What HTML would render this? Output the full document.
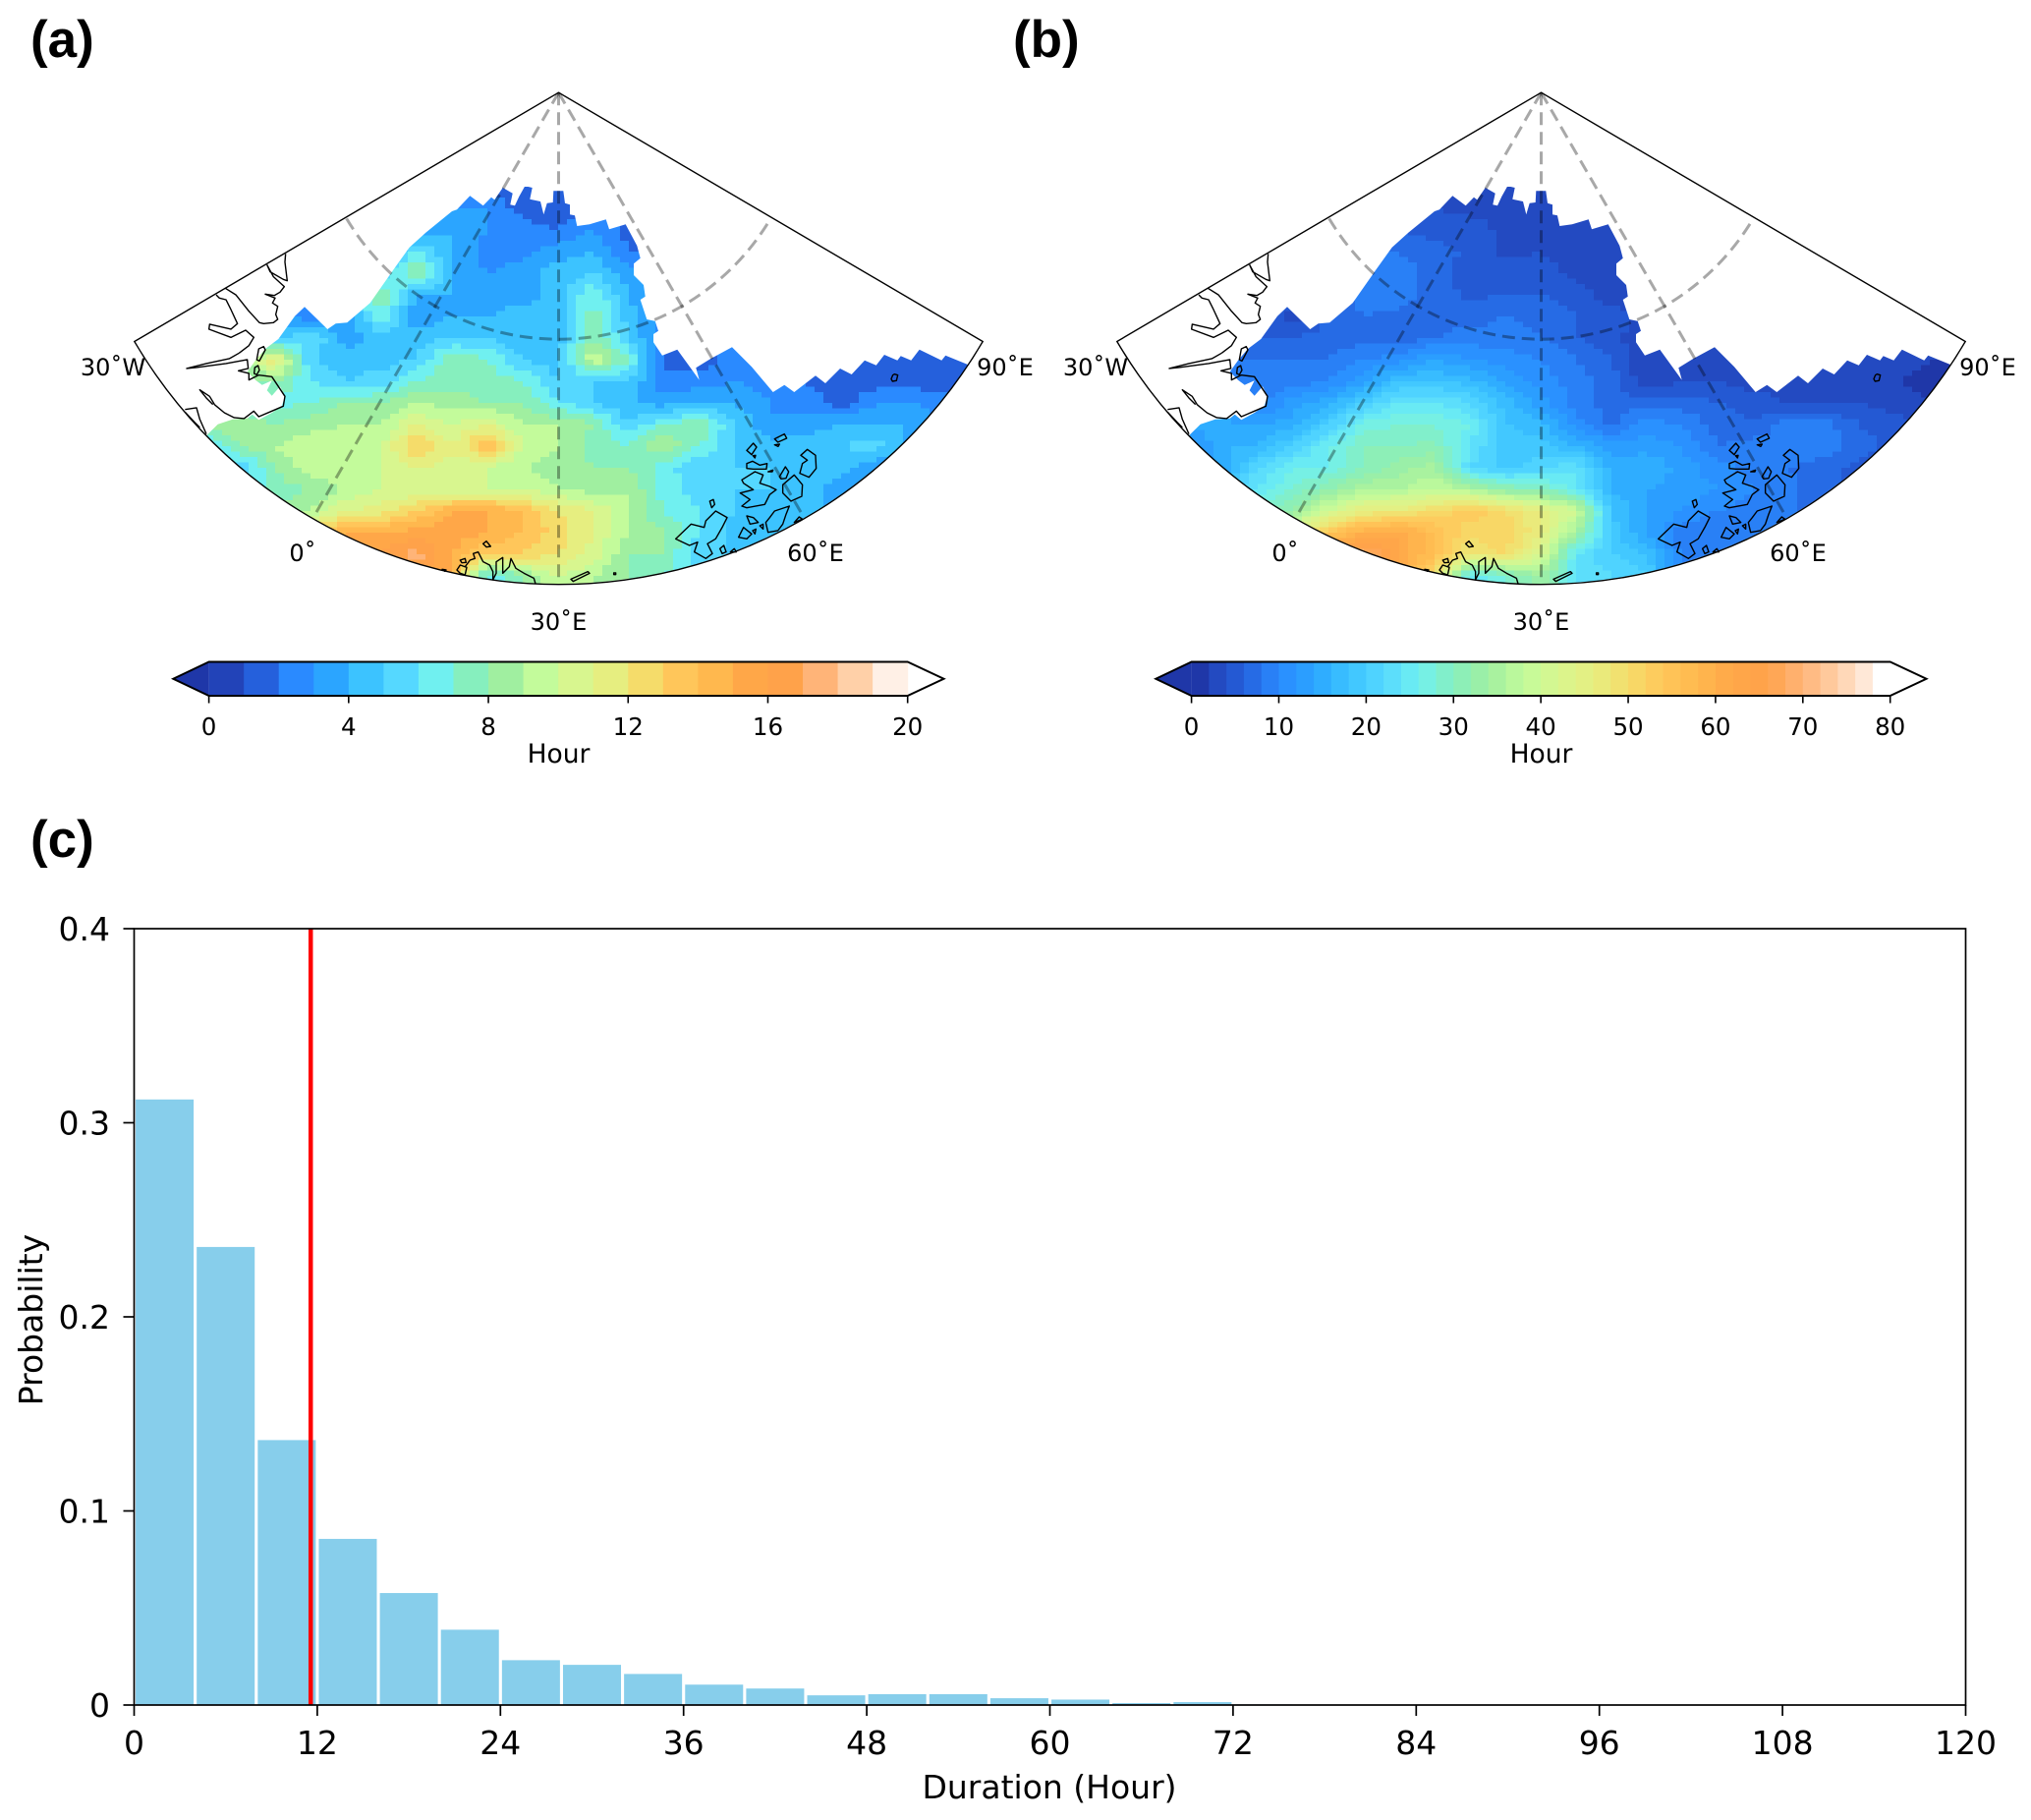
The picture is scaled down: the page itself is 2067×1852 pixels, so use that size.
<!DOCTYPE html>
<html lang="en">
<head>
<meta charset="utf-8">
<title>Duration maps and histogram</title>
<style>
html,body{margin:0;padding:0;background:#fff;}
svg{display:block;}
text{font-family:"DejaVu Sans","Liberation Sans",sans-serif;fill:#000;}
.panel-tag{font-family:"Liberation Sans",sans-serif;font-weight:bold;font-size:53px;}
.map-label{font-size:24px;text-anchor:middle;}
</style>
</head>
<body>
<svg id="fig" xmlns="http://www.w3.org/2000/svg" width="2067" height="1852" viewBox="0 0 2067 1852">
<rect width="2067" height="1852" fill="#fff"/>
<text class="panel-tag" x="31" y="58">(a)</text>
<text class="panel-tag" x="1031" y="58">(b)</text>
<text class="panel-tag" x="31" y="872">(c)</text>

<g id="map-a"></g>
<g id="map-b"></g>

<g>
<text class="map-label" x="115" y="382">30˚W</text>
<text class="map-label" x="308" y="571">0˚</text>
<text class="map-label" x="568.5" y="641">30˚E</text>
<text class="map-label" x="830" y="571">60˚E</text>
<text class="map-label" x="1023" y="382">90˚E</text>
</g>
<g>
<text class="map-label" x="1115" y="382">30˚W</text>
<text class="map-label" x="1308" y="571">0˚</text>
<text class="map-label" x="1568.5" y="641">30˚E</text>
<text class="map-label" x="1830" y="571">60˚E</text>
<text class="map-label" x="2023" y="382">90˚E</text>
</g>

<g id="cbar-a"></g>
<g id="cbar-b"></g>
<text x="568.5" y="776" font-size="26.5" text-anchor="middle">Hour</text>
<text x="1568.5" y="776" font-size="26.5" text-anchor="middle">Hour</text>

<g id="hist"></g>
<text x="1068" y="1830" font-size="33" text-anchor="middle">Duration (Hour)</text>
<text transform="translate(43,1343) rotate(-90)" font-size="33" text-anchor="middle">Probability</text>
</svg>

<script>
// ---------- Histogram data ----------
const binWidthHours = 4;
const barValues = [0.312,0.236,0.1365,0.0856,0.0577,0.0388,0.0231,0.0207,0.016,0.0105,0.0085,0.005,0.0056,0.0056,0.0035,0.0028,0.001,0.0015,0.0003,0.0002,0.0002,0.0001];
const meanDuration = 11.57;
const xTickValues = [0,12,24,36,48,60,72,84,96,108,120];
const yTickValues = [0,0.1,0.2,0.3,0.4];
const yTickLabels = ["0","0.1","0.2","0.3","0.4"];

// ---------- Colour-bar data ----------
const palette = ["#2243b8","#2560dc","#2a8aff","#2ba5ff","#3cc3ff","#55d8ff","#70f0f0","#86efbe","#a0efa0","#c3fb9b","#d8f68f","#e6ee80","#f5dc6a","#ffc65a","#ffb84e","#ffa748","#ffa24a","#ffb478","#ffd0a8","#fff0e6"];
const cbarTicksA = [0,4,8,12,16,20];
const cbarTicksB = [0,10,20,30,40,50,60,70,80];

// ---------- Gridded field, panel (a), hours ----------
const gridA = [
[2,2,2,2,2,2,2,2,2,2,1.5,1.5,1.5,1.5,2,2,2,2,2,2,2,2,2,2,2],
[3,3,3,3,3,3,3,3,3,3,3,1.5,1,2,2,2,2,2,2,2,2,2,2,2,2],
[3,3,3,3,3,3,3,3,3,4,3,2.5,2,3,1.5,2,2,2,2,2,2,2,2,2,2],
[3,3,3,3,3,3,3,4,6,4,2.5,2.5,3.5,4,2,2,2,2,2,2,2,2,2,2,2],
[3,3,3,3,3,3,3,5,8.5,4,3,3.5,4.5,5,3.5,2,2,2,2,2,2,2,2,2,2],
[3,3,3,3,3,3,5,8,4,4,3.5,3.5,4.5,7,4,2,2,2,2,2,2,2,2,2,2],
[3,3,3,3,3,2.5,3,7,3,4,4,4.5,4.5,7.5,4.5,3,2,2,2,2,2,2,2,2,2],
[4,4,4,4,4.5,6,3.5,4.5,4.5,5,5,4,4.5,8,5,2,2,2,2,2,1.5,1.5,1.5,1.5,1.5],
[6,6,6,8,12,5,4.5,4.5,5,8,7,5,4.5,10,7,2,1.5,2.5,2,2,1.5,1.5,1.5,1.5,1.5],
[7,7,7,8,8,6,5,5.5,7,7.5,7.5,7,5,5,5,2,2.5,3,2,2,1.5,1.5,1.5,1,1],
[7,7,7,7,6.5,7,8,8,9,8.5,8,8,6,5,4,3.5,4,4,3,2.5,1.5,3,3,2.5,2],
[7,7,8,9,8,8.5,9,9,11,10,11,9,9,8,5,7,8,5,3,3.5,4,4,4,3,3],
[6,6,6,8,9,10,9.5,10,13.5,11,14,10,9,7.5,7,9,7,5,4.5,4.5,5,5.5,3.5,3,3],
[5,5,5,5,8,9.5,10,10,11,10.5,10,9,8.5,8,8,6.5,5,5,5,4.5,4.5,3,3,3,3],
[5,5,5,5,7.5,8,9,10,10,10,10,10,9,8.5,9,6.5,5.5,5,5,4.5,3.5,3,3,3,3],
[8,8,8,8,8,9,11,11.5,13,15,15,14,12,11,9,7,6,5,4.5,4,4,4,4,4,4],
[12,12,12,12,12,13,15,15,15.5,15.5,15,14,12.5,11,9,8,6,4.5,4.5,4,4,4,4,4,4],
[14,14,14,14,14,15,16,16,17.5,15,13,13,12,10.5,8,8,5,5,5,5,5,5,5,5,5],
[15,15,15,15,15,15,15,16,16,15,6,8,10,9,8,7,6,5,5,5,5,5,5,5,5],
[15,15,15,15,15,15,15,16,16,15,6,8,10,9,8,7,6,5,5,5,5,5,5,5,5]
];

// ---------- Gridded field, panel (b), hours ----------
const gridB = [
[3,3,3,3,3,3,3,3,3,3,3,2,2,2,3,3,3,3,3,3,3,3,3,3,3],
[4,4,4,4,4,4,4,4,4,4,3.5,3,2,2.5,3,3,3,3,3,3,3,3,3,3,3],
[6,6,6,6,6,6,6,6,6,5,5,3.5,3,3,2.5,3,3,3,3,3,3,3,3,3,3],
[8,8,8,8,8,8,8,8,8,7,5.5,3.5,4,3.5,3,3,3,3,3,3,3,3,3,3,3],
[8,8,8,8,8,8,8,8,9,7,5,5,4.5,3.5,3,3,3,3,3,3,3,3,3,3,3],
[7,7,7,7,7,7,7,9,9,7,5.5,6,6,5,3,3,3,3,3,3,3,3,3,3,3],
[5,5,5,5,5,3,6,8,7.5,7,7,8,7,6,5,3,3,3,3,3,3,3,3,3,3],
[6,6,6,6,6,6,7,7,7,8,9,9,8,6,5,2,2,2,2,2,2,2,2,2,2],
[8,8,8,8,8,8,8,10,11,14,12,11,10,8,6,2,2,3,3,3,3,3,3,2,2],
[8,8,8,8,8,9,10,13,18,18,17,13,11,9,7,2.5,4,4,3,3,3,3,2,1,1],
[9,9,9,9,9,13,15,20,24,24,22,17,13,9,7,7,7,6,5,4,4,4,3,2,2],
[15,15,15,15,14,15,20,27,28,28,26,18,17,11,7.5,11,10,7,6,9,9,6,5,4,4],
[10,10,10,16,16,20,26,30,30,30.5,24,19,19,16,13,13,12,8,9,10,9,7,5,4,4],
[14,14,14,14,22,26,26,30,33,35,22,19,21,24,15,16,13,11,9,8,7,5,5,4,4],
[20,20,20,22,24,28,32,36,36,38,36,32,30,25,16,14,13,12,10,9,6,6,6,6,6],
[30,30,30,30,30,32,40,46,47,50,54,50,46,40,18,14,12,10,9,8,8,8,8,8,8],
[40,40,40,40,40,45,54,60,62,56,50,52,46,34,19,14,9,8,8,8,8,8,8,8,8],
[55,55,55,55,55,60,65,70,62,56,48,50,42,24,20,18,9,9,9,9,9,9,9,9,9],
[60,60,60,60,60,60,60,65,60,50,24,28,34,24,22,20,10,10,10,10,10,10,10,10,10],
[60,60,60,60,60,60,60,65,60,50,24,28,34,24,22,20,10,10,10,10,10,10,10,10,10]
];

// ---------- Map outline geometry ----------
const apexX = 568.5, apexY = 94.2, mapRadius = 500.5, gridRadius = 251;
const frameAngle = 59.6, arcAngle = 59.3;
const gridLonAngles = [-30,0,30];
const dataEdge = "M210 443.3L221.7 431.7L236.7 426.7L251.7 425.7L256.7 421.7L263.3 427.3L276.7 420L286.7 413.3L290 403.3L285 393.3L276.7 402.7L271.7 397.3L276.7 387.3L266.7 391.7L260 386.7L251.7 378.3L260 366.7L270 355L283.3 345L300 321.7L310 312.3L333.3 335L341.7 329.3L353.3 328.3L376.7 308.3L400 275L416.7 251.7L433.3 236.7L451.7 221.7L460 215L465 213.3L478.3 199.3L491.7 209.3L500 200.7L503.3 203.3L511.7 191L521.7 196.7L519.3 208.3L524 209.3L528.3 200L534.3 189.3L541.7 191L539.3 202.7L550 205L553.3 218.3L556.7 206.7L562.7 206L563.3 194.3L573.3 194.3L575 206.7L580 208.3L580 218.3L585 219.3L587.3 230L600 228.3L616.7 223.3L620 233.3L636.7 228.3L648.3 250L651.7 262.7L645 268.3L645 280L655 290L656.7 301.7L651.7 305L658.3 325L666.7 326.7L670 336.7L665 340L665 348.3L674 361.7L689.3 355.7L711.7 386.7L708.3 374.3L723.3 365L745 353.3L765 373.3L786.7 399L798.3 391.7L808.3 399L830 382.3L840 390L855 375L866.7 381L880 366.7L891.7 371.7L900 361L913.3 366.7L916.7 362.3L927.3 366.7L935.7 355.7L958.3 366.7L962.3 361.7L985 371A501 501 0 0 1 210 443.3Z";
const coastSets = [
 {tx:190,ty:240,d:"M245 88L265 125L298 155L285 172L268 182L240 178L270 190L262 205L278 215L272 240L278 255L265 265L235 268L222 265L190 230L150 180L118 160M245 88L255 110L295 133L307 137L300 80L302 55M90 180L100 190L120 195L135 225L155 268L135 285L70 270L68 285L135 310L180 288L205 310L190 335L160 358"},
 {tx:120,ty:280,d:"M370 238L340 255L270 270L210 285L240 282L330 270L395 258L398 285L368 292L400 300L400 320L430 305L470 310L490 340L510 370L505 400L470 415L430 432L415 415L385 438L355 435L325 420L295 395L280 370L250 350L270 375L290 395M205 410L240 405L250 440L270 485M205 418L235 450L250 465M430 225L445 218L450 228L432 262L424 258ZM418 282L428 276L432 290L424 304L416 300Z"},
 {tx:660,ty:420,d:"M83 385L130 340L170 350L175 330L205 300L240 320L225 350L205 385L180 400L195 430L175 445L140 425L150 395L125 405ZM187 270L198 265L202 280L193 290ZM385 80L415 65L422 78L395 90ZM385 98L400 96L396 103ZM300 115L320 93L330 105L315 128ZM319 131L327 130L325 138ZM300 155L318 148L340 160L362 155L360 172L320 172L300 170ZM462 185L470 155L485 145L465 130L485 112L510 130L512 170L490 197ZM400 195L418 165L428 180L420 200L405 202ZM410 220L445 190L470 220L468 255L435 270L410 245ZM285 205L325 180L350 190L340 215L370 225L390 235L370 250L355 280L300 290L285 285L310 265L280 245L320 235L290 215ZM300 315L320 320L335 335L310 340ZM275 380L290 350L315 370L300 385ZM370 320L385 300L430 285L420 310L410 340L395 360L365 365L358 335ZM445 335L460 318L470 325ZM218 415L230 405L237 425L225 430ZM250 425L262 415L268 425ZM340 345L350 340L350 355ZM318 360L328 355L325 370ZM365 180L380 175L378 180Z"},
 {tx:440,ty:540,d:"M75 120L85 105L105 112L100 135L85 130ZM100 110L115 90L130 85L125 70L140 65L155 95L175 105L185 125L185 150L195 130L195 95L215 82L215 130L235 110L240 85L255 115L280 130L310 145L315 162M85 90L100 85L103 97L90 98ZM155 40L165 32L178 48L165 50ZM30 118L42 120L38 124ZM423 148L475 125L480 130L430 155ZM554 129L560 129L560 134L554 134Z"},
 {tx:905,ty:380,d:"M16 2L26 5L22 22L10 24L6 17L11 5Z"}
];

const NS = "http://www.w3.org/2000/svg";
function el(tag, parent){
  const n = document.createElementNS(NS, tag);
  parent.appendChild(n);
  return n;
}

// ---------- Axis functions for the gridded field ----------
function gridX(i){ return 136 + 36 * i; }
function gridY(j){ return 190 + 22 * j; }
function polar(deg, r){
  const a = deg * Math.PI / 180;
  return [apexX + r * Math.sin(a), apexY + r * Math.cos(a)];
}
function levelColorA(v){
  const k = Math.max(0, Math.min(19, Math.floor(v)));
  return palette[k];
}
function hexRgb(h){ return [1,3,5].map(function(p){ return parseInt(h.substr(p,2),16); }); }
function levelColorB(v){
  if (v >= 78) return "#ffffff";
  if (v < 2) return "#1f37a8";
  const k = Math.max(0, Math.min(39, Math.floor(v / 2)));
  const p = Math.max(0, Math.min(19, (k * 2 + 1) / 4 - 0.5));
  const lo = Math.floor(p), hi = Math.min(19, lo + 1), t = p - lo;
  const a = hexRgb(palette[lo]), b = hexRgb(palette[hi]);
  return "rgb(" + a.map(function(c, q){ return Math.round(c + (b[q] - c) * t); }).join(",") + ")";
}

function drawMap(id, grid, colorFn, dx){
  const root = document.getElementById(id);
  const g = el("g", root);
  g.setAttribute("transform", "translate(" + dx + ",0)");
  
  

  const defs = el("defs", g);
  const clip = el("clipPath", defs);
  clip.setAttribute("id", id + "-clip");
  const clipPath = el("path", clip);
  clipPath.setAttribute("d", dataEdge);

  const cells = el("g", g);
  cells.setAttribute("clip-path", "url(#" + id + "-clip)");
  cells.setAttribute("shape-rendering", "crispEdges");
  
  

  const sub = 4;
  for (let j = 0; j < grid.length - 1; j++) {
    for (let s = 0; s < sub; s++) {
      const ft = (s + 0.5) / sub;
      const y0 = gridY(j + s / sub);
      const h = gridY(j + (s + 1) / sub) - y0;
      let runStart = null, runColor = null;
      const flush = function(endX){
        if (runColor === null) return;
        const r = el("rect", cells);
        r.setAttribute("x", runStart);
        r.setAttribute("y", y0);
        r.setAttribute("width", endX - runStart);
        r.setAttribute("height", h);
        r.setAttribute("fill", runColor);
        
        
      };
      for (let i = 0; i < grid[j].length - 1; i++) {
        for (let q = 0; q < sub; q++) {
          const fq = (q + 0.5) / sub;
          const v = grid[j][i] * (1 - fq) * (1 - ft) + grid[j][i + 1] * fq * (1 - ft)
                  + grid[j + 1][i] * (1 - fq) * ft + grid[j + 1][i + 1] * fq * ft;
          const c = colorFn(v);
          const x = gridX(i + q / sub);
          if (c !== runColor) {
            flush(x);
            runStart = x;
            runColor = c;
          }
        }
      }
      flush(gridX(grid[j].length - 1));
    }
  }

  // graticule
  const grat = el("g", g);
  
  
  gridLonAngles.forEach(function(a){
    const e = polar(a, mapRadius);
    const l = el("line", grat);
    l.setAttribute("x1", apexX);
    l.setAttribute("y1", apexY);
    l.setAttribute("x2", e[0]);
    l.setAttribute("y2", e[1]);
    l.setAttribute("stroke", "rgba(0,0,0,0.34)");
    l.setAttribute("stroke-width", "3");
    l.setAttribute("stroke-dasharray", "13 7");
    
    
  });
  const p0 = polar(-arcAngle, gridRadius), p1 = polar(arcAngle, gridRadius);
  const arc = el("path", grat);
  arc.setAttribute("d", "M" + p0[0] + " " + p0[1] + "A" + gridRadius + " " + gridRadius + " 0 0 0 " + p1[0] + " " + p1[1]);
  arc.setAttribute("fill", "none");
  arc.setAttribute("stroke", "rgba(0,0,0,0.34)");
  arc.setAttribute("stroke-width", "3");
  arc.setAttribute("stroke-dasharray", "13 7");
  
  

  // coastlines
  const coast = el("g", g);
  
  
  coastSets.forEach(function(cs){
    const pth = el("path", coast);
    pth.setAttribute("d", cs.d);
    pth.setAttribute("transform", "translate(" + cs.tx + "," + cs.ty + ") scale(0.3333)");
    pth.setAttribute("fill", "none");
    pth.setAttribute("stroke", "#000");
    pth.setAttribute("stroke-width", "4.2");
    pth.setAttribute("stroke-linejoin", "round");
    
    
  });

  // sector frame
  const c0 = polar(-frameAngle, mapRadius), c1 = polar(frameAngle, mapRadius);
  const frame = el("path", g);
  frame.setAttribute("d", "M" + apexX + " " + apexY + "L" + c0[0] + " " + c0[1] + "A" + mapRadius + " " + mapRadius + " 0 0 0 " + c1[0] + " " + c1[1] + "Z");
  frame.setAttribute("fill", "none");
  frame.setAttribute("stroke", "#000");
  frame.setAttribute("stroke-width", "1.4");
  
  
}

function drawCbar(id, dx, vMax, step, ticks, colorFn, lowColor){
  const root = document.getElementById(id);
  const x0 = 212.6 + dx, x1 = 923.7 + dx, top = 673.5, bot = 708;
  const tipL = 176.3 + dx, tipR = 960.5 + dx, mid = (top + bot) / 2;
  const cx = function(v){ return x0 + (x1 - x0) * v / vMax; };
  const low = el("polygon", root);
  low.setAttribute("points", x0 + "," + top + " " + tipL + "," + mid + " " + x0 + "," + bot);
  low.setAttribute("fill", lowColor);
  
  
  for (let v = 0; v < vMax; v += step) {
    const r = el("rect", root);
    r.setAttribute("x", cx(v));
    r.setAttribute("y", top);
    r.setAttribute("width", cx(v + step) - cx(v) + 0.5);
    r.setAttribute("height", bot - top);
    r.setAttribute("fill", colorFn(v + step / 2));
    
    
  }
  const outline = el("polygon", root);
  outline.setAttribute("points", tipL + "," + mid + " " + x0 + "," + top + " " + x1 + "," + top + " " + tipR + "," + mid + " " + x1 + "," + bot + " " + x0 + "," + bot);
  outline.setAttribute("fill", "none");
  outline.setAttribute("stroke", "#000");
  outline.setAttribute("stroke-width", "2");
  
  
  ticks.forEach(function(t){
    const l = el("line", root);
    l.setAttribute("x1", cx(t));
    l.setAttribute("x2", cx(t));
    l.setAttribute("y1", bot);
    l.setAttribute("y2", bot + 7.5);
    l.setAttribute("stroke", "#000");
    l.setAttribute("stroke-width", "1.6");
    
    
    const tx = el("text", root);
    tx.setAttribute("x", cx(t));
    tx.setAttribute("y", 748);
    tx.setAttribute("font-size", "24.5");
    tx.setAttribute("text-anchor", "middle");
    
    
    tx.textContent = String(t);
  });
}

// ---------- Histogram ----------
function histX(v){ return 136.5 + v * (2000.5 - 136.5) / 120; }
function histY(v){ return 1735 - v * (1735 - 945) / 0.4; }

function drawHist(){
  const root = document.getElementById("hist");
  barValues.forEach(function(v, i){
    const b = el("rect", root);
    const pad = binWidthHours * 0.025;
    b.setAttribute("x", histX(i * binWidthHours + pad));
    b.setAttribute("y", histY(v));
    b.setAttribute("width", histX((i + 1) * binWidthHours - pad) - histX(i * binWidthHours + pad));
    b.setAttribute("height", histY(0) - histY(v));
    b.setAttribute("fill", "#87ceeb");
    
    
  });
  const m = el("line", root);
  m.setAttribute("x1", histX(meanDuration));
  m.setAttribute("x2", histX(meanDuration));
  m.setAttribute("y1", histY(0.4));
  m.setAttribute("y2", histY(0));
  m.setAttribute("stroke", "#ff0000");
  m.setAttribute("stroke-width", "4.5");
  
  
  const f = el("rect", root);
  f.setAttribute("x", histX(0));
  f.setAttribute("y", histY(0.4));
  f.setAttribute("width", histX(120) - histX(0));
  f.setAttribute("height", histY(0) - histY(0.4));
  f.setAttribute("fill", "none");
  f.setAttribute("stroke", "#000");
  f.setAttribute("stroke-width", "1.7");
  
  
  xTickValues.forEach(function(t){
    const l = el("line", root);
    l.setAttribute("x1", histX(t));
    l.setAttribute("x2", histX(t));
    l.setAttribute("y1", histY(0));
    l.setAttribute("y2", histY(0) + 11);
    l.setAttribute("stroke", "#000");
    l.setAttribute("stroke-width", "1.7");
    
    
    const tx = el("text", root);
    tx.setAttribute("x", histX(t));
    tx.setAttribute("y", 1785);
    tx.setAttribute("font-size", "33");
    tx.setAttribute("text-anchor", "middle");
    
    
    tx.textContent = String(t);
  });
  yTickValues.forEach(function(t, i){
    const l = el("line", root);
    l.setAttribute("x1", histX(0) - 11);
    l.setAttribute("x2", histX(0));
    l.setAttribute("y1", histY(t));
    l.setAttribute("y2", histY(t));
    l.setAttribute("stroke", "#000");
    l.setAttribute("stroke-width", "1.7");
    
    
    const tx = el("text", root);
    tx.setAttribute("x", 112);
    tx.setAttribute("y", histY(t) + 12);
    tx.setAttribute("font-size", "33");
    tx.setAttribute("text-anchor", "end");
    
    
    tx.textContent = yTickLabels[i];
  });
}

drawMap("map-a", gridA, levelColorA, 0);
drawMap("map-b", gridB, levelColorB, 1000);
drawCbar("cbar-a", 0, 20, 1, cbarTicksA, levelColorA, "#1f37a8");
drawCbar("cbar-b", 1000, 80, 2, cbarTicksB, levelColorB, "#1f37a8");
drawHist();
</script>
</body>
</html>
